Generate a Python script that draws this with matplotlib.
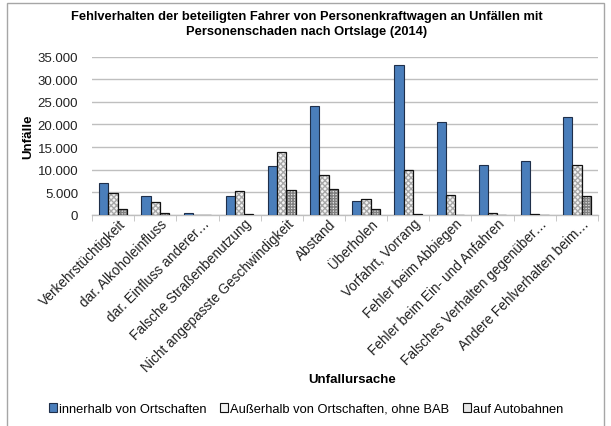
import numpy as np
import matplotlib
matplotlib.use("Agg")
import matplotlib.pyplot as plt
from matplotlib.patches import Rectangle
from matplotlib.ticker import FuncFormatter, MultipleLocator
from matplotlib.transforms import ScaledTranslation

plt.rcParams['font.family'] = ['Liberation Sans', 'DejaVu Sans']

categories = [
    "Verkehrstüchtigkeit",
    "dar. Alkoholeinfluss",
    "dar. Einfluss anderer…",
    "Falsche Straßenbenutzung",
    "Nicht angepasste Geschwindigkeit",
    "Abstand",
    "Überholen",
    "Vorfahrt, Vorrang",
    "Fehler beim Abbiegen",
    "Fehler beim Ein- und Anfahren",
    "Falsches Verhalten gegenüber…",
    "Andere Fehlverhalten beim…",
]
series_names = [
    "innerhalb von Ortschaften",
    "Außerhalb von Ortschaften, ohne BAB",
    "auf Autobahnen",
]
innerorts = [7000, 4200, 500, 4200, 10750, 24100, 3000, 33200, 20500, 11000, 12000, 21700]
ausserorts = [4850, 2900, 100, 5200, 14000, 8800, 3500, 9900, 4400, 500, 300, 11100]
autobahn = [1300, 500, 50, 300, 5450, 5700, 1250, 300, 50, 50, 50, 4250]

fig = plt.figure(figsize=(6.11, 4.27), dpi=100)
fig.patch.set_facecolor("white")

# outer chart frame
fig.add_artist(Rectangle((7 / 611, -0.01), 597 / 611, (427 - 4) / 427 + 0.01,
                         transform=fig.transFigure, fill=False,
                         edgecolor="#a6a6a6", linewidth=1.0))

ax = fig.add_axes([92 / 611, 1 - 216 / 427, (598 - 92) / 611, (216 - 57.5) / 427])

x = np.arange(len(categories))
w = 0.22
offs = [-w, 0, w]

ax.bar(x + offs[0], innerorts, w, color="#4a7ebb", edgecolor="#1f2f4a",
       linewidth=0.8, zorder=3)

# patterned series: hatch layer first, black outline on top
ax.bar(x + offs[1], ausserorts, w, color="#f4f4f4", edgecolor="#a8a8a8",
       hatch="xxxxxx", linewidth=0, zorder=3)
ax.bar(x + offs[1], ausserorts, w, fill=False, edgecolor="#111111",
       linewidth=0.9, zorder=4)
ax.bar(x + offs[2], autobahn, w, color="#e6e6e6", edgecolor="#808080",
       hatch="++++++", linewidth=0, zorder=3)
ax.bar(x + offs[2], autobahn, w, fill=False, edgecolor="#111111",
       linewidth=0.9, zorder=4)

ax.set_xlim(-0.5, len(categories) - 0.5)
ax.set_ylim(0, 35000)
ax.yaxis.set_major_locator(MultipleLocator(5000))
ax.yaxis.set_major_formatter(FuncFormatter(lambda v, p: f"{int(v):,}".replace(",", ".")))
ax.grid(axis="y", color="#bfbfbf", linewidth=1.0, zorder=0)
ax.set_axisbelow(True)

for s in ["top", "right", "left"]:
    ax.spines[s].set_visible(False)
ax.spines["bottom"].set_color("#bfbfbf")
ax.spines["bottom"].set_linewidth(1.0)

ax.tick_params(axis="y", length=0, labelsize=9.5, pad=10, labelcolor="#222222")
ax.set_xticks(x)
ax.set_xticklabels(categories, rotation=45, ha="right", rotation_mode="anchor",
                   fontsize=9.8, color="#222222")
ax.tick_params(axis="x", length=0, pad=1)
shift = ScaledTranslation(5 / 100, 0, fig.dpi_scale_trans)
for lbl in ax.get_xticklabels():
    lbl.set_transform(lbl.get_transform() + shift)
ax.set_xticks(np.arange(-0.5, len(categories) + 0.5, 1), minor=True)
ax.tick_params(axis="x", which="minor", length=4, color="#bfbfbf")

ax.set_ylabel("Unfälle", fontsize=9.5, fontweight="bold", labelpad=2)
fig.text(352 / 611, 1 - 380 / 427, "Unfallursache", ha="center", va="center",
         fontsize=9.5, fontweight="bold")

fig.text(307 / 611, 1 - 17 / 427,
         "Fehlverhalten der beteiligten Fahrer von Personenkraftwagen an Unfällen mit",
         ha="center", va="center", fontsize=9.3, fontweight="bold")
fig.text(307 / 611, 1 - 32 / 427,
         "Personenschaden nach Ortslage (2014)",
         ha="center", va="center", fontsize=9.3, fontweight="bold")

# legend
handles = [
    Rectangle((0, 0), 1, 1, facecolor="#4a7ebb", edgecolor="#1f2f4a", linewidth=0.8),
    Rectangle((0, 0), 1, 1, facecolor="#f2f2f2", edgecolor="#111111", linewidth=0.8),
    Rectangle((0, 0), 1, 1, facecolor="#e6e6e6", edgecolor="#111111", linewidth=0.8),
]
fig.legend(handles, series_names, loc="center", bbox_to_anchor=(306 / 611, 1 - 410 / 427),
           ncol=3, frameon=False, fontsize=9.3, handlelength=0.6, handleheight=0.6,
           handletextpad=0.15, columnspacing=1.1)

fig.savefig("out.png", dpi=100)
